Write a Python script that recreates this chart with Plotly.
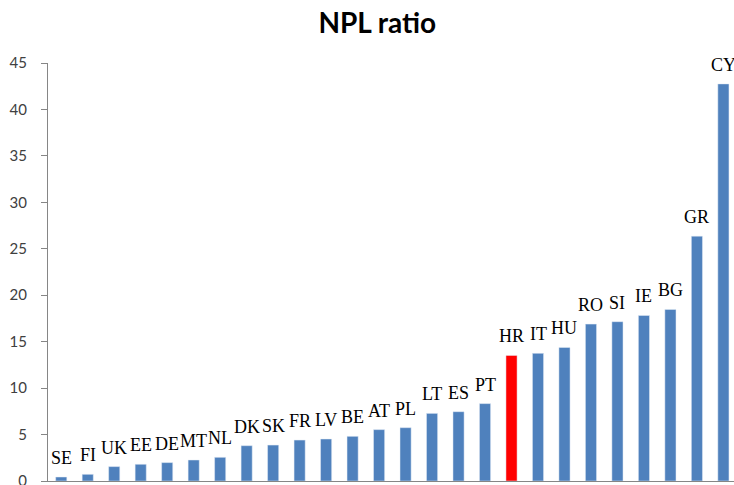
import plotly.graph_objects as go

countries = ["SE","FI","UK","EE","DE","MT","NL","DK","SK","FR","LV","BE","AT","PL",
             "LT","ES","PT","HR","IT","HU","RO","SI","IE","BG","GR","CY"]
npl_ratio = [0.43,0.72,1.55,1.8,1.98,2.26,2.55,3.8,3.87,4.41,4.52,4.81,5.53,5.74,
             7.28,7.46,8.33,13.52,13.74,14.38,16.89,17.15,17.82,18.47,26.36,42.75]
highlight = "HR"
y_ticks = [0,5,10,15,20,25,30,35,40,45]

xpos = list(range(len(countries)))
colors = ["#FF0000" if c == highlight else "#4F81BD" for c in countries]

fig = go.Figure(go.Bar(x=xpos, y=npl_ratio, marker_color=colors, width=0.42,
                       cliponaxis=False))
for xi, v, c in zip(xpos, npl_ratio, countries):
    fig.add_annotation(x=xi, y=v, text=c, showarrow=False, yanchor="bottom",
                       yshift=7, xanchor="center",
                       font=dict(family="Liberation Serif", size=18, color="black"))
fig.update_layout(
    width=734, height=485,
    margin=dict(l=48, r=0, t=63, b=4, autoexpand=False),
    plot_bgcolor="white", paper_bgcolor="white",
    title=dict(text="<b>NPL ratio</b>", x=0.514, xanchor="center", y=0.953, yanchor="middle",
               font=dict(family="Lato", size=28, color="black"), automargin=False),
    showlegend=False,
)
fig.update_xaxes(range=[-0.5, 25.4], showticklabels=False, showline=True, automargin=False,
                 linecolor="#868686", linewidth=1, ticks="", showgrid=False, zeroline=False)
fig.update_yaxes(range=[0, 45], tickvals=y_ticks, showline=True, linecolor="#868686",
                 linewidth=1, ticks="outside", ticklen=6, tickcolor="#868686", automargin=False,
                 showgrid=False, zeroline=False, ticklabelstandoff=11, ticklabeloverflow="allow",
                 tickfont=dict(family="Lato", size=15, color="#404040"))
fig.write_html("out.html", config={"displayModeBar": False},
               post_script="document.body.style.margin='0px';document.body.style.overflow='hidden';document.documentElement.style.overflow='hidden';")
